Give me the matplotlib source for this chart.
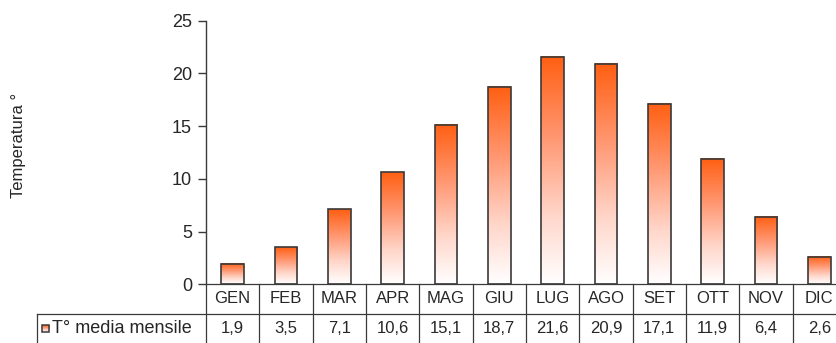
import numpy as np
import matplotlib
matplotlib.use('Agg')
import matplotlib.pyplot as plt
from matplotlib.colors import LinearSegmentedColormap

mesi = ['GEN', 'FEB', 'MAR', 'APR', 'MAG', 'GIU', 'LUG', 'AGO', 'SET', 'OTT', 'NOV', 'DIC']
temp = [1.9, 3.5, 7.1, 10.6, 15.1, 18.7, 21.6, 20.9, 17.1, 11.9, 6.4, 2.6]
serie = 'T° media mensile'
yticks = [0, 5, 10, 15, 20, 25]

plt.rcParams['font.family'] = ['Liberation Sans', 'DejaVu Sans']
testo = '#262626'
linea = '#3a3a3a'

# sfumatura arancio -> bianco dall'alto verso il basso della barra
cmap = LinearSegmentedColormap.from_list(
    'arancio', [(0, '#ffffff'), (0.3, '#ffd6ca'), (0.65, '#ff9670'), (1, '#ff5f12')])
grad = np.linspace(0, 1, 256).reshape(-1, 1)

W, H = 836, 343
fig = plt.figure(figsize=(W / 100, H / 100), dpi=100)
# l'asse esce un po' a destra: la colonna DIC resta tagliata
ax = fig.add_axes([206 / W, (H - 284.2) / H, 640 / W, 263.5 / H])

x = np.arange(len(mesi))
larg = 0.42
for xi, v in zip(x, temp):
    ax.imshow(grad, extent=[xi - larg / 2, xi + larg / 2, 0, v], origin='lower',
              cmap=cmap, aspect='auto', zorder=2, interpolation='bilinear')
ax.bar(x, temp, width=larg, facecolor='none', edgecolor=linea, linewidth=1.2, zorder=3)

ax.set_xlim(-0.5, 11.5)
ax.set_ylim(0, 25)
ax.set_yticks(yticks)
ax.set_yticklabels([str(t) for t in yticks], fontsize=13, color=testo)
ax.tick_params(axis='y', direction='out', length=6, width=1, color=linea, pad=4)
ax.set_xticks([])
for s in ['top', 'right', 'bottom']:
    ax.spines[s].set_visible(False)
ax.spines['left'].set_color(linea)
ax.spines['left'].set_linewidth(1)
ax.set_ylabel('Temperatura °', fontsize=12, color=testo)
ax.yaxis.set_label_coords(-180 / 640, 0.528)

# tabella dei dati sotto il grafico (unità y: 25 valori = 263.5 px)
px = 25 / 263.5
cx = 1 / 53.33
r1 = -30 * px
r2 = -62 * px
sx = -0.5 - 169 * cx
kw = dict(color=linea, linewidth=0.9, clip_on=False, zorder=4)
ax.plot([-0.5, 12.5], [0, 0], **kw)
ax.plot([sx, 12.5], [r1, r1], **kw)
ax.plot([sx, sx], [r1, r2], **kw)
for b in np.arange(-0.5, 12.5, 1):
    ax.plot([b, b], [0, r2], **kw)
for xi, m, v in zip(x, mesi, temp):
    ax.text(xi, -14 * px, m, ha='center', va='center', fontsize=12, color=testo)
    ax.text(xi, -44 * px, f'{v:.1f}'.replace('.', ','),
            ha='center', va='center', fontsize=12, color=testo)

# simbolo della serie nella legenda della tabella
qx = sx + 5 * cx
qw = 7 * cx
qh = 7 * px
qy = -48 * px
ax.imshow(grad, extent=[qx, qx + qw, qy, qy + qh], origin='lower', cmap=cmap,
          aspect='auto', zorder=4, clip_on=False)
ax.add_patch(plt.Rectangle((qx, qy), qw, qh, facecolor='none', edgecolor=linea,
                           linewidth=1.1, clip_on=False, zorder=5))
ax.text(qx + qw + 3 * cx, -44 * px, serie, ha='left', va='center',
        fontsize=13, color=testo)

ax.set_xlim(-0.5, 11.5)
ax.set_ylim(0, 25)
fig.savefig('out.png', dpi=100)
